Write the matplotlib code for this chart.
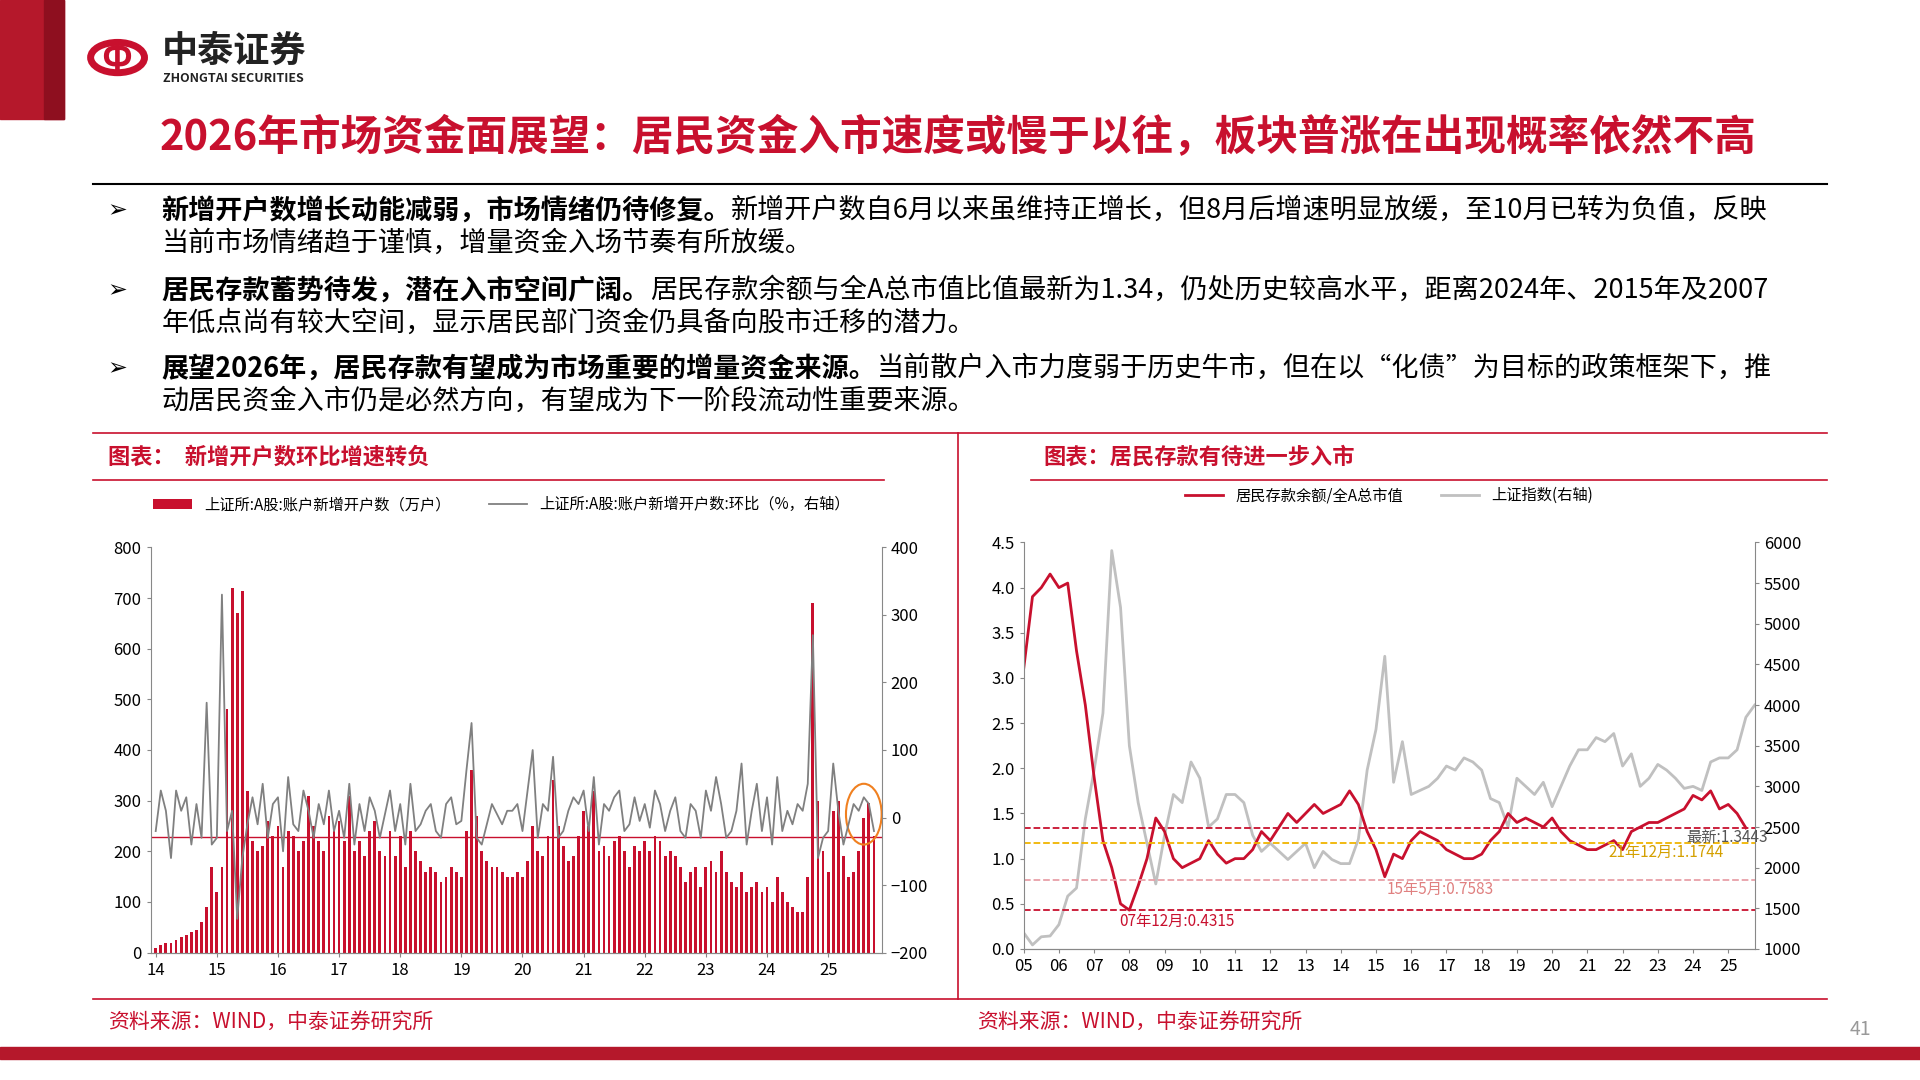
import numpy as np
import matplotlib.pyplot as plt
from matplotlib.patches import Rectangle, Circle, Ellipse
from matplotlib.lines import Line2D

plt.rcParams['font.family'] = ['Noto Sans CJK SC', 'DejaVu Sans']

RED = '#c8102e'
W, H = 1568, 882  # reference pixel grid

# ---- left chart: monthly new accounts 2014-01 .. 2025-10 ----
accounts = [
    10, 15, 20, 20, 25, 30, 35, 40, 45, 60, 90, 170,
    120, 170, 480, 720, 670, 713, 320, 220, 200, 210, 260, 230,
    250, 170, 240, 230, 200, 220, 310, 250, 220, 200, 270, 240,
    260, 220, 310, 200, 220, 190, 240, 260, 200, 190, 240, 190,
    230, 170, 240, 200, 180, 160, 170, 160, 140, 150, 170, 160,
    150, 240, 360, 270, 200, 180, 170, 170, 160, 150, 150, 160,
    150, 180, 250, 200, 190, 230, 340, 250, 210, 180, 190, 230,
    280, 250, 320, 200, 210, 190, 220, 230, 200, 170, 210, 200,
    220, 200, 230, 220, 190, 200, 190, 170, 140, 160, 170, 130,
    170, 180, 160, 200, 160, 140, 130, 160, 120, 130, 140, 120,
    130, 100, 150, 120, 100, 90, 80, 80, 150, 690, 300, 200,
    160, 280, 300, 190, 150, 160, 200, 265, 295, 230,
]
mom = [
    -20, 40, 10, -60, 40, 10, 30, -40, 20, -30, 170, -40,
    -30, 330, -20, 10, -150, -60, -10, 30, -10, 50, -30, 20,
    30, -50, 60, -10, -20, 40, 10, -30, 20, -10, 40, -20,
    10, -30, 50, -40, 20, -20, 30, 10, -30, 5, 40, -20,
    20, -40, 50, -20, -10, 10, 20, -20, -30, 20, 30, -10,
    -5, 70, 140, -30, -40, -10, 20, 5, -10, 10, 10, 20,
    -20, 40, 100, -30, 20, 10, 90, -30, -20, 10, 30, 20,
    40, -20, 60, -40, 20, 10, 30, 40, -20, -10, 30, -5,
    20, -15, 40, 20, -20, 10, 30, -20, -30, 20, 10, -30,
    40, 10, 60, 20, -30, -20, 10, 80, -40, 10, 50, -20,
    30, -40, 60, -20, 10, -10, 20, 10, 50, 270, -60, -30,
    -20, 80, 10, -40, -10, 20, 10, 30, 20, -20,
]
left_years = ['14', '15', '16', '17', '18', '19', '20', '21', '22', '23', '24', '25']

# ---- right chart: quarterly 2005Q1 .. 2025Q4 ----
ratio = [
    3.1, 3.9, 4.0, 4.15, 4.0, 4.05, 3.3, 2.7, 1.9, 1.2, 0.9, 0.5,
    0.43, 0.7, 1.0, 1.45, 1.3, 1.0, 0.9, 0.95, 1.0, 1.2, 1.05, 0.95,
    1.0, 1.0, 1.1, 1.3, 1.2, 1.35, 1.5, 1.4, 1.5, 1.6, 1.5, 1.55,
    1.6, 1.75, 1.6, 1.3, 1.1, 0.8, 1.05, 1.0, 1.2, 1.3, 1.25, 1.2,
    1.1, 1.05, 1.0, 1.0, 1.05, 1.2, 1.3, 1.5, 1.4, 1.45, 1.4, 1.35,
    1.45, 1.3, 1.2, 1.15, 1.1, 1.1, 1.15, 1.2, 1.1, 1.3, 1.35, 1.4,
    1.4, 1.45, 1.5, 1.55, 1.7, 1.65, 1.75, 1.55, 1.6, 1.5, 1.34,
]
sh_index = [
    1200, 1050, 1150, 1160, 1300, 1650, 1750, 2600, 3200, 3900, 5900, 5200,
    3500, 2800, 2300, 1800, 2400, 2900, 2800, 3300, 3100, 2500, 2600, 2900,
    2900, 2800, 2400, 2200, 2300, 2200, 2100, 2200, 2300, 2000, 2200, 2100,
    2050, 2050, 2350, 3200, 3700, 4600, 3050, 3550, 2900, 2950, 3000, 3100,
    3250, 3200, 3350, 3300, 3200, 2850, 2800, 2500, 3100, 3000, 2900, 3050,
    2750, 3000, 3250, 3450, 3450, 3600, 3550, 3650, 3250, 3400, 3000, 3100,
    3270, 3200, 3100, 2975, 3000, 2950, 3300, 3350, 3350, 3450, 3850, 4000,
]
ref_levels = [1.3443, 1.1744, 0.7583, 0.4315]
ref_labels = ['最新:1.3443', '21年12月:1.1744', '15年5月:0.7583', '07年12月:0.4315']
ref_colors = ['#c8102e', '#f0b400', '#e8a0a8', '#c8102e']
right_years = ['%02d' % y for y in range(5, 26)]


def fx(px):
    return px / W


def fy(py):
    return 1 - py / H


fig = plt.figure(figsize=(19.2, 10.8), dpi=100)

# header blocks
fig.patches.append(Rectangle((0, fy(97)), fx(52), 97 / H, transform=fig.transFigure, color='#b5182b'))
fig.patches.append(Rectangle((fx(36), fy(97)), fx(16), 97 / H, transform=fig.transFigure, color='#8e0f1f'))
fig.patches.append(Circle((fx(96), fy(47)), 22 / W, transform=fig.transFigure, fill=False, ec=RED, lw=5))
fig.text(fx(95), fy(48), 'Ф', color=RED, fontsize=26, ha='center', va='center', fontweight='bold')
fig.text(fx(132), fy(42), '中泰证券', fontsize=26, fontweight='bold', va='center', color='#222222')
fig.text(fx(133), fy(64), 'ZHONGTAI SECURITIES', fontsize=9, fontweight='bold', va='center', color='#222222')

fig.text(fx(782), fy(112), '2026年市场资金面展望：居民资金入市速度或慢于以往，板块普涨在出现概率依然不高',
         fontsize=30, fontweight='bold', color=RED, ha='center', va='center')
fig.add_artist(Line2D([fx(76), fx(1492)], [fy(150), fy(150)], color='black', lw=1.5))

bullets = [
    ('新增开户数增长动能减弱，市场情绪仍待修复。',
     '新增开户数自6月以来虽维持正增长，但8月后增速明显放缓，至10月已转为负值，反映',
     '当前市场情绪趋于谨慎，增量资金入场节奏有所放缓。', 172),
    ('居民存款蓄势待发，潜在入市空间广阔。',
     '居民存款余额与全A总市值比值最新为1.34，仍处历史较高水平，距离2024年、2015年及2007',
     '年低点尚有较大空间，显示居民部门资金仍具备向股市迁移的潜力。', 237),
    ('展望2026年，居民存款有望成为市场重要的增量资金来源。',
     '当前散户入市力度弱于历史牛市，但在以“化债”为目标的政策框架下，推',
     '动居民资金入市仍是必然方向，有望成为下一阶段流动性重要来源。', 301),
]
for bold, rest, line2, y in bullets:
    fig.text(fx(88), fy(y), '➢', fontsize=17, va='center', family=['DejaVu Sans'])
    t = fig.text(fx(132), fy(y), bold, fontsize=19.5, fontweight='bold', va='center')
    fig.canvas.draw()
    bb = t.get_window_extent()
    fig.text(bb.x1 / fig.bbox.width, fy(y), rest, fontsize=19.5, va='center')
    fig.text(fx(132), fy(y + 27), line2, fontsize=19.5, va='center')

# chart frames
for yy, x0, x1 in [(354, 76, 1492), (392, 76, 722), (392, 842, 1492), (816, 76, 1492)]:
    fig.add_artist(Line2D([fx(x0), fx(x1)], [fy(yy), fy(yy)], color=RED, lw=1.2))
fig.add_artist(Line2D([fx(782), fx(782)], [fy(354), fy(816)], color=RED, lw=1.2))
fig.text(fx(88), fy(373), '图表：  新增开户数环比增速转负', fontsize=16, fontweight='bold',
         style='italic', color=RED, va='center')
fig.text(fx(852), fy(373), '图表：居民存款有待进一步入市', fontsize=16, fontweight='bold',
         style='italic', color=RED, va='center')
fig.text(fx(88), fy(835), '资料来源：WIND，中泰证券研究所', fontsize=15, style='italic', color=RED, va='center')
fig.text(fx(798), fy(835), '资料来源：WIND，中泰证券研究所', fontsize=15, style='italic', color=RED, va='center')
fig.text(fx(1528), fy(841), '41', fontsize=14, color='#999999', ha='right', va='center')
fig.patches.append(Rectangle((0, fy(865)), 1, 10 / H, transform=fig.transFigure, color='#b5182b'))

# ---- left chart ----
ax = fig.add_axes([fx(123), fy(778), fx(720 - 123), (778 - 447) / H])
x = np.arange(len(accounts))
ax.bar(x, accounts, width=0.55, color=RED, label='上证所:A股:账户新增开户数（万户）')
ax.axhline(228, color=RED, lw=1)
ax.set_ylim(0, 800)
ax.set_xlim(-1, len(accounts) + 0.5)
ax.set_yticks(range(0, 801, 100))
ax.set_xticks(np.arange(len(left_years)) * 12)
ax.set_xticklabels(left_years)
ax2 = ax.twinx()
ax2.plot(x, mom, color='#808080', lw=1.3, label='上证所:A股:账户新增开户数:环比（%，右轴）')
ax2.set_ylim(-200, 400)
ax2.set_yticks(range(-200, 401, 100))
ax2.add_patch(Ellipse((len(accounts) - 3, 5), 7, 90, fill=False, ec='#f08020', lw=1.5))
for a in (ax, ax2):
    a.spines['top'].set_visible(False)
    for s in ('left', 'right', 'bottom'):
        a.spines[s].set_color('#888888')
    a.tick_params(labelsize=12, color='#888888', length=3)
ax.spines['right'].set_visible(False)
ax2.spines['left'].set_visible(False)
h1, l1 = ax.get_legend_handles_labels()
h2, l2 = ax2.get_legend_handles_labels()
ax.legend(h1 + h2, l1 + l2, loc='lower center', bbox_to_anchor=(0.48, 1.05), ncol=2,
          frameon=False, fontsize=11, handlelength=2.5, columnspacing=2.5)

# ---- right chart ----
bx = fig.add_axes([fx(836), fy(775), fx(1433 - 836), (775 - 443) / H])
t = 2005 + np.arange(len(ratio)) / 4
ti = 2005 + np.arange(len(sh_index)) / 4
bx2 = bx.twinx()
bx2.plot(ti, sh_index, color='#c0c0c0', lw=2, label='上证指数(右轴)')
bx2.set_ylim(1000, 6000)
bx2.set_yticks(range(1000, 6001, 500))
bx.set_zorder(bx2.get_zorder() + 1)
bx.patch.set_visible(False)
bx.plot(t, ratio, color=RED, lw=2, label='居民存款余额/全A总市值')
for lv, lb, c in zip(ref_levels, ref_labels, ref_colors):
    bx.axhline(lv, color=c, lw=1.3, ls='--')
bx.text(2023.8, ref_levels[0] - 0.02, ref_labels[0], fontsize=11, color='#555555', va='top')
bx.text(2021.6, ref_levels[1] - 0.01, ref_labels[1], fontsize=11, color='#d4a000', va='top')
bx.text(2015.3, ref_levels[2] - 0.01, ref_labels[2], fontsize=11, color='#e08080', va='top')
bx.text(2007.7, ref_levels[3] - 0.03, ref_labels[3], fontsize=11, color=RED, va='top')
bx.set_ylim(0, 4.5)
bx.set_yticks(np.arange(0, 4.51, 0.5))
bx.set_xlim(2005, 2025.75)
bx.set_xticks(range(2005, 2026))
bx.set_xticklabels(right_years)
bx.yaxis.set_major_formatter(plt.FormatStrFormatter('%.1f'))
for a in (bx, bx2):
    a.spines['top'].set_visible(False)
    for s in ('left', 'right', 'bottom'):
        a.spines[s].set_color('#888888')
    a.tick_params(labelsize=12, color='#888888', length=3)
bx.spines['right'].set_visible(False)
bx2.spines['left'].set_visible(False)
g1, m1 = bx.get_legend_handles_labels()
g2, m2 = bx2.get_legend_handles_labels()
bx.legend(g1 + g2, m1 + m2, loc='lower center', bbox_to_anchor=(0.5, 1.06), ncol=2,
          frameon=False, fontsize=11, handlelength=2.5, columnspacing=2.5)

fig.savefig('out.png', dpi=100)
